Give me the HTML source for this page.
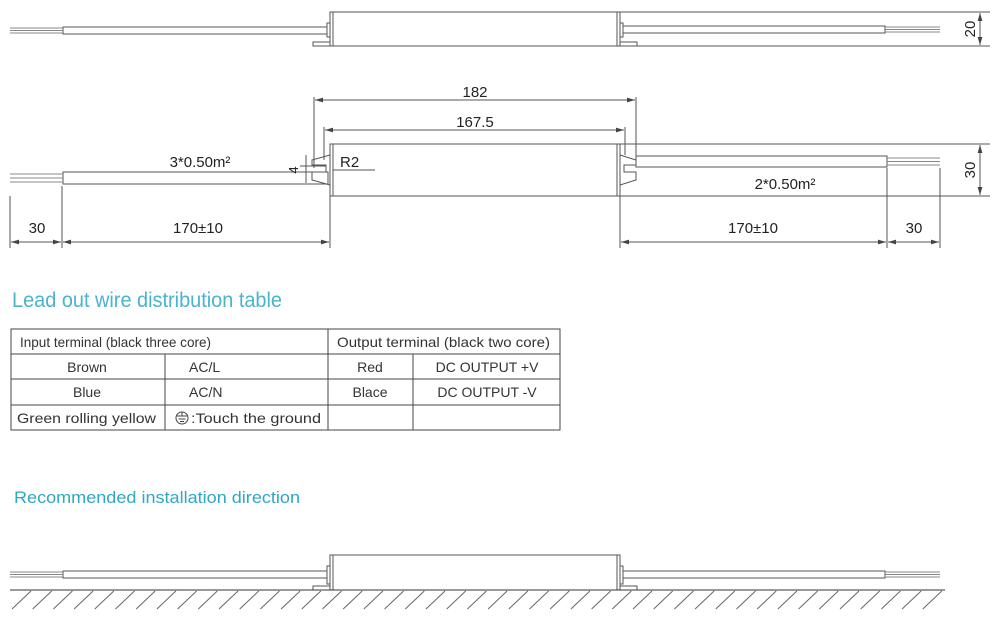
<!DOCTYPE html>
<html><head><meta charset="utf-8"><style>
body{margin:0;background:#fff;width:1000px;height:620px;overflow:hidden}
svg{position:absolute;left:0;top:0}
text{font-family:"Liberation Sans",sans-serif;fill:#222}
.t{font-family:"Liberation Sans",sans-serif;fill:#333;font-size:14px}
</style></head><body>
<svg width="1000" height="620" viewBox="0 0 1000 620">
<defs>
<marker id="a" viewBox="0 0 10 6" refX="10" refY="3" markerWidth="8" markerHeight="5" orient="auto-start-reverse"><path d="M0,0L10,3L0,6z" fill="#444"/></marker>
</defs>
<g stroke="#555" stroke-width="1" fill="none">
<rect x="330" y="12" width="290" height="34" fill="#fff"/>
<line x1="333" y1="12" x2="333" y2="46"/><line x1="617" y1="12" x2="617" y2="46"/>
<line x1="620" y1="12" x2="990" y2="12"/><line x1="620" y1="46" x2="990" y2="46"/>
<rect x="313" y="42" width="17" height="4"/><rect x="620" y="42" width="17" height="4"/>
<rect x="327" y="23" width="3" height="14"/><rect x="620" y="23" width="3" height="14"/>
<rect x="63" y="27" width="264" height="7"/><rect x="623" y="26" width="262" height="7"/>
<path d="M10,28H63M10,30.5H63M10,33H63M885,27H940M885,29.5H940M885,32H940" stroke="#888"/>
<line x1="980" y1="13" x2="980" y2="45" marker-start="url(#a)" marker-end="url(#a)"/>
<rect x="330" y="144" width="290" height="52" fill="#fff"/>
<line x1="333" y1="144" x2="333" y2="196"/><line x1="617" y1="144" x2="617" y2="196"/>
<line x1="620" y1="144" x2="990" y2="144"/><line x1="620" y1="196" x2="990" y2="196"/>
<path d="M330,155L312,160V165H326V172H312V180L330,185"/>
<path d="M620,155L636,160V165H624V172H636V180L620,185"/>
<rect x="63" y="172" width="265" height="12"/><rect x="636" y="156" width="251" height="11"/>
<path d="M10,174H63M10,178H63M10,182H63M887,158H940M887,161.5H940M887,165H940" stroke="#888"/>
<line x1="314" y1="97" x2="314" y2="168"/><line x1="636" y1="97" x2="636" y2="160"/>
<line x1="315" y1="100" x2="635" y2="100" marker-start="url(#a)" marker-end="url(#a)"/>
<line x1="324" y1="127" x2="324" y2="160"/><line x1="625" y1="127" x2="625" y2="155"/>
<line x1="325" y1="130" x2="624" y2="130" marker-start="url(#a)" marker-end="url(#a)"/>
<line x1="300" y1="166" x2="326" y2="166"/><line x1="300" y1="172" x2="326" y2="172"/>
<line x1="306" y1="155" x2="306" y2="183"/>
<line x1="333" y1="170" x2="375" y2="170"/>
<line x1="980" y1="145" x2="980" y2="195" marker-start="url(#a)" marker-end="url(#a)"/>
<line x1="10" y1="196" x2="10" y2="248"/><line x1="62" y1="186" x2="62" y2="248"/><line x1="330" y1="196" x2="330" y2="248"/>
<line x1="620" y1="196" x2="620" y2="248"/><line x1="887" y1="168" x2="887" y2="248"/><line x1="940" y1="168" x2="940" y2="248"/>
<line x1="11" y1="242" x2="61" y2="242" marker-start="url(#a)" marker-end="url(#a)"/>
<line x1="63" y1="242" x2="329" y2="242" marker-start="url(#a)" marker-end="url(#a)"/>
<line x1="621" y1="242" x2="886" y2="242" marker-start="url(#a)" marker-end="url(#a)"/>
<line x1="888" y1="242" x2="939" y2="242" marker-start="url(#a)" marker-end="url(#a)"/>
<rect x="330" y="555" width="290" height="35" fill="#fff"/>
<line x1="333" y1="555" x2="333" y2="590"/><line x1="617" y1="555" x2="617" y2="590"/>
<rect x="313" y="586" width="17" height="4"/><rect x="620" y="586" width="17" height="4"/>
<rect x="327" y="566" width="3" height="18"/><rect x="620" y="566" width="3" height="18"/>
<rect x="63" y="571" width="264" height="7"/><rect x="623" y="571" width="262" height="7"/>
<path d="M10,572H63M10,574.5H63M10,577H63M885,572H940M885,574.5H940M885,577H940" stroke="#888"/>
<line x1="10" y1="590" x2="945" y2="590" stroke="#333"/>
<path d="M12,609L31,591M32.7,609L51.7,591M53.4,609L72.4,591M74.1,609L93.1,591M94.8,609L113.8,591M115.5,609L134.5,591M136.2,609L155.2,591M156.9,609L175.9,591M177.6,609L196.6,591M198.3,609L217.3,591M219,609L238,591M239.7,609L258.7,591M260.4,609L279.4,591M281.1,609L300.1,591M301.8,609L320.8,591M322.5,609L341.5,591M343.2,609L362.2,591M363.9,609L382.9,591M384.6,609L403.6,591M405.3,609L424.3,591M426,609L445,591M446.7,609L465.7,591M467.4,609L486.4,591M488.1,609L507.1,591M508.8,609L527.8,591M529.5,609L548.5,591M550.2,609L569.2,591M570.9,609L589.9,591M591.6,609L610.6,591M612.3,609L631.3,591M633,609L652,591M653.7,609L672.7,591M674.4,609L693.4,591M695.1,609L714.1,591M715.8,609L734.8,591M736.5,609L755.5,591M757.2,609L776.2,591M777.9,609L796.9,591M798.6,609L817.6,591M819.3,609L838.3,591M840,609L859,591M860.7,609L879.7,591M881.4,609L900.4,591M902.1,609L921.1,591M922.8,609L941.8,591" stroke="#666"/>
<g stroke="#444">
<rect x="11" y="329" width="549" height="101"/>
<line x1="11" y1="354" x2="560" y2="354"/><line x1="11" y1="379" x2="560" y2="379"/><line x1="11" y1="405" x2="560" y2="405"/>
<line x1="328" y1="329" x2="328" y2="430"/><line x1="165" y1="354" x2="165" y2="430"/><line x1="413" y1="354" x2="413" y2="430"/>
</g>
<circle cx="182" cy="418" r="6" stroke="#444"/>
<path d="M177,416H187M178.5,419H185.5M180,421.5H184M182,412V416" stroke="#444"/>
</g>
<g font-size="15">
<text x="475" y="97" text-anchor="middle">182</text>
<text x="475" y="127" text-anchor="middle">167.5</text>
<text x="340" y="167">R2</text>
<text x="298" y="170" transform="rotate(-90 298 170)" text-anchor="middle" font-size="13">4</text>
<text x="200" y="167" text-anchor="middle">3*0.50m²</text>
<text x="785" y="189" text-anchor="middle">2*0.50m²</text>
<text x="37" y="233" text-anchor="middle">30</text>
<text x="198" y="233" text-anchor="middle">170±10</text>
<text x="753" y="233" text-anchor="middle">170±10</text>
<text x="914" y="233" text-anchor="middle">30</text>
<text x="975" y="29" transform="rotate(-90 975 29)" text-anchor="middle">20</text>
<text x="975" y="170" transform="rotate(-90 975 170)" text-anchor="middle">30</text>
</g>
<text x="12" y="307" font-size="21" style="fill:#4ab4cc" textLength="270" lengthAdjust="spacingAndGlyphs">Lead out wire distribution table</text>
<text x="14" y="503" font-size="17" style="fill:#2fa8c4" textLength="286" lengthAdjust="spacingAndGlyphs">Recommended installation direction</text>
<text x="20" y="347" class="t" font-size="15" textLength="191" lengthAdjust="spacingAndGlyphs">Input terminal (black three core)</text>
<text x="337" y="347" class="t" font-size="15" textLength="213" lengthAdjust="spacingAndGlyphs">Output terminal (black two core)</text>
<text x="87" y="372" class="t" text-anchor="middle">Brown</text>
<text x="87" y="397" class="t" text-anchor="middle">Blue</text>
<text x="17" y="423" class="t" font-size="15" textLength="139" lengthAdjust="spacingAndGlyphs">Green rolling yellow</text>
<text x="189" y="372" class="t" font-size="13">AC/L</text>
<text x="189" y="397" class="t" font-size="13">AC/N</text>
<text x="191" y="423" class="t" font-size="15" textLength="130" lengthAdjust="spacingAndGlyphs">:Touch the ground</text>
<text x="370" y="372" class="t" text-anchor="middle">Red</text>
<text x="370" y="397" class="t" text-anchor="middle">Blace</text>
<text x="487" y="372" class="t" text-anchor="middle" font-size="13">DC OUTPUT +V</text>
<text x="487" y="397" class="t" text-anchor="middle" font-size="13">DC OUTPUT -V</text>
</svg>
</body></html>
